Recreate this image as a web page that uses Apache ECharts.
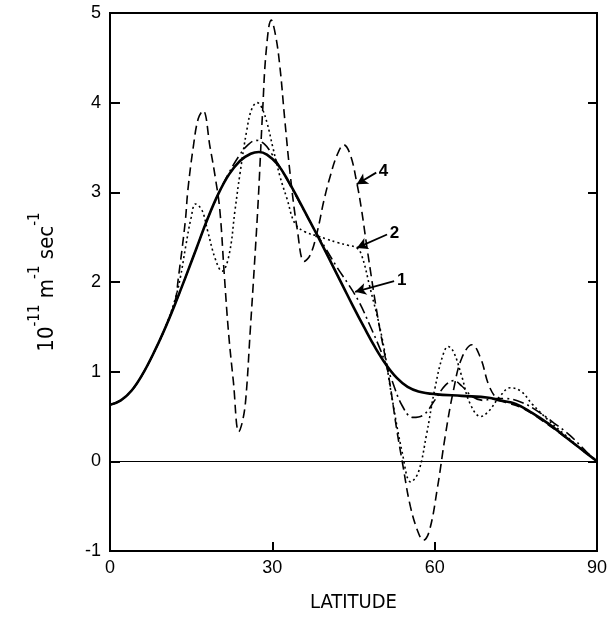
<!DOCTYPE html>
<html>
<head>
<meta charset="utf-8">
<script src="https://cdn.jsdelivr.net/npm/echarts@6/dist/echarts.min.js"></script>
<style>
  html, body { margin: 0; padding: 0; background: #fff; }
  #chart { width: 614px; height: 618px; }
</style>
</head>
<body>
<div id="chart"></div>
<script>
// Latitude ticks and value axis range
const xTicks = [0, 30, 60, 90];
const yTicks = [-1, 0, 1, 2, 3, 4, 5];

// Reference profile (solid)
const latExact = [0, 2, 4, 6, 8, 10, 12, 14, 16, 18, 20, 22, 24, 26, 27.5, 29, 31, 33, 35, 37, 39, 41, 43, 45, 47, 49, 51, 53, 55, 57, 60, 65, 70, 72, 75, 78, 81, 84, 87, 90];
const valExact = [0.63, 0.68, 0.79, 0.97, 1.2, 1.46, 1.75, 2.06, 2.38, 2.7, 2.98, 3.2, 3.35, 3.43, 3.45, 3.42, 3.31, 3.12, 2.9, 2.67, 2.44, 2.2, 1.96, 1.72, 1.49, 1.27, 1.08, 0.93, 0.83, 0.78, 0.75, 0.73, 0.71, 0.68, 0.64, 0.54, 0.42, 0.28, 0.14, 0];

// Curve 1 (dash-dot)
const lat1 = [0, 2, 4, 6, 8, 10, 12, 14, 16, 18, 20, 22, 24, 25.5, 27, 28.5, 30, 32, 34, 36, 38, 40, 42, 44, 46, 48, 50, 52, 54, 56, 58, 60, 62, 63.5, 65, 67, 69, 71, 73, 76, 79, 82, 85, 88, 90];
const val1 = [0.63, 0.68, 0.79, 0.97, 1.2, 1.46, 1.75, 2.06, 2.38, 2.7, 2.98, 3.22, 3.42, 3.53, 3.58, 3.54, 3.42, 3.22, 3.0, 2.78, 2.56, 2.36, 2.16, 1.98, 1.78, 1.52, 1.24, 0.92, 0.62, 0.49, 0.52, 0.68, 0.85, 0.9, 0.84, 0.72, 0.68, 0.7, 0.7, 0.66, 0.56, 0.43, 0.29, 0.11, 0];

// Curve 2 (dotted)
const lat2 = [0, 2, 4, 6, 8, 10, 12, 13, 14, 15, 15.8, 17, 18, 19.5, 20.7, 22, 23.1, 24, 25.3, 26.2, 27.2, 28, 29, 30.1, 31.4, 32.7, 34.2, 36, 38.5, 40, 42, 44, 45.6, 46.5, 48, 50.3, 52, 54, 55.6, 57, 58.5, 60, 61.5, 62.5, 63.5, 65, 66.5, 68.5, 70, 72, 74, 76, 78, 81, 84, 87, 90];
const val2 = [0.63, 0.68, 0.79, 0.97, 1.2, 1.46, 1.8, 2.05, 2.4, 2.72, 2.87, 2.8, 2.58, 2.25, 2.12, 2.3, 2.8, 3.2, 3.7, 3.93, 4.0, 3.95, 3.78, 3.5, 3.18, 2.93, 2.65, 2.56, 2.51, 2.48, 2.44, 2.41, 2.38, 2.3, 1.95, 1.37, 0.75, 0.1, -0.23, -0.12, 0.3, 0.8, 1.18, 1.28, 1.22, 0.95, 0.65, 0.5, 0.56, 0.72, 0.82, 0.78, 0.64, 0.46, 0.3, 0.14, 0];

// Curve 4 (dashed)
const lat4 = [0, 2, 4, 6, 8, 10, 12, 12.6, 13.9, 14.4, 15.4, 16.3, 17.2, 18.5, 19.5, 20.3, 21.1, 21.9, 22.8, 23.8, 24.5, 25.1, 25.9, 26.7, 27.4, 28.2, 28.9, 29.8, 30.6, 31.4, 32.3, 33.3, 34.6, 35.9, 37, 38.3, 39.5, 40.7, 42, 43.2, 44.4, 45.6, 46.5, 47.5, 49.5, 51.5, 53, 54, 55.5, 57, 57.9, 59, 60.5, 62, 63.5, 65, 66.9, 68.5, 70, 71.5, 73, 76, 80, 85, 90];
const val4 = [0.63, 0.68, 0.79, 0.97, 1.2, 1.46, 1.78, 2.03, 2.67, 3.03, 3.51, 3.82, 3.91, 3.5, 3.15, 2.8, 2.1, 1.44, 0.89, 0.33, 0.45, 0.7, 1.44, 2.2, 2.92, 3.9, 4.6, 4.92, 4.75, 4.4, 3.81, 3.2, 2.59, 2.23, 2.3, 2.56, 2.9, 3.18, 3.42, 3.53, 3.42, 3.11, 2.8, 2.38, 1.6, 0.95, 0.35, 0.0, -0.5, -0.8, -0.88, -0.78, -0.3, 0.3, 0.8, 1.15, 1.3, 1.15, 0.85, 0.7, 0.66, 0.6, 0.45, 0.23, 0];

// Curve labels with arrows: label end -> arrow tip (data coordinates)
const arrowNames = ['4', '2', '1'];
const arrowFrom = [[49.2, 3.22], [51.2, 2.53], [52.5, 2.01]];
const arrowTo = [[45.6, 3.09], [45.6, 2.38], [45.3, 1.89]];

const zip = (xs, ys) => xs.map((x, i) => [x, ys[i]]);

function arrowLine(i) {
  return {
    silent: true,
    animation: false,
    symbol: ['none', 'arrow'],
    symbolSize: [9, 11],
    lineStyle: { color: '#000', width: 1.8, type: 'solid' },
    label: {
      show: true,
      position: 'start',
      formatter: '{b}',
      color: '#000',
      fontFamily: 'Liberation Sans',
      fontWeight: 'bold',
      fontSize: 17,
      distance: 3
    },
    data: [[{ coord: arrowFrom[i], name: arrowNames[i] }, { coord: arrowTo[i] }]]
  };
}

const chart = echarts.init(document.getElementById('chart'), null, { renderer: 'canvas' });

const tickLabel = { color: '#000', fontFamily: 'Liberation Sans', fontSize: 18 };

chart.setOption({
  animation: false,
  backgroundColor: '#fff',
  grid: {
    left: 110, right: 17, top: 13, bottom: 67,
    show: true, borderColor: '#000', borderWidth: 2, backgroundColor: 'transparent'
  },
  xAxis: {
    type: 'value',
    min: xTicks[0], max: xTicks[xTicks.length - 1], interval: 30,
    name: 'LATITUDE',
    nameLocation: 'middle',
    nameGap: 42,
    nameTextStyle: { color: '#000', fontFamily: 'DejaVu Sans Condensed', fontSize: 20 },
    axisLine: { show: true, onZero: false, lineStyle: { color: '#000', width: 2 } },
    axisTick: { show: true, inside: true, length: 9, lineStyle: { color: '#000', width: 2 } },
    axisLabel: Object.assign({ margin: 8 }, tickLabel),
    splitLine: { show: false }
  },
  yAxis: [{
    type: 'value',
    min: yTicks[0], max: yTicks[yTicks.length - 1], interval: 1,
    name: '{b|10}{s|-11}{b| m}{s|-1}{b| sec}{s|-1}',
    nameLocation: 'middle',
    nameRotate: 90,
    nameGap: 52,
    nameTextStyle: {
      color: '#000',
      rich: {
        b: { fontFamily: 'DejaVu Sans Condensed', fontSize: 22, color: '#000', lineHeight: 30, verticalAlign: 'bottom' },
        s: { fontFamily: 'DejaVu Sans Condensed', fontSize: 15, color: '#000', lineHeight: 30, verticalAlign: 'top' }
      }
    },
    axisLine: { show: true, onZero: false, lineStyle: { color: '#000', width: 2 } },
    axisTick: { show: true, inside: true, length: 10, lineStyle: { color: '#000', width: 2 } },
    axisLabel: Object.assign({ margin: 9 }, tickLabel),
    splitLine: { show: false }
  }, {
    type: 'value',
    position: 'right',
    min: yTicks[0], max: yTicks[yTicks.length - 1], interval: 1,
    axisLine: { show: true, onZero: false, lineStyle: { color: '#000', width: 2 } },
    axisTick: { show: true, inside: true, length: 9, lineStyle: { color: '#000', width: 2 } },
    axisLabel: { show: false },
    splitLine: { show: false }
  }],
  series: [
    {
      name: 'exact', type: 'line', data: zip(latExact, valExact),
      smooth: 0.4, showSymbol: false, z: 5,
      lineStyle: { color: '#000', width: 2.6 },
      markLine: {
        silent: true, animation: false, symbol: ['none', 'none'],
        label: { show: false },
        lineStyle: { color: '#000', width: 1.2, type: 'solid' },
        data: [{ yAxis: 0 }]
      }
    },
    {
      name: '1', type: 'line', data: zip(lat1, val1),
      smooth: 0.4, showSymbol: false,
      lineStyle: { color: '#000', width: 1.6, type: [11, 4, 2, 4] },
      markLine: arrowLine(2)
    },
    {
      name: '2', type: 'line', data: zip(lat2, val2),
      smooth: 0.4, showSymbol: false,
      lineStyle: { color: '#000', width: 1.6, type: [2, 3] },
      markLine: arrowLine(1)
    },
    {
      name: '4', type: 'line', data: zip(lat4, val4),
      smooth: 0.4, showSymbol: false,
      lineStyle: { color: '#000', width: 1.6, type: [9, 5] },
      markLine: arrowLine(0)
    }
  ]
});
</script>
</body>
</html>
